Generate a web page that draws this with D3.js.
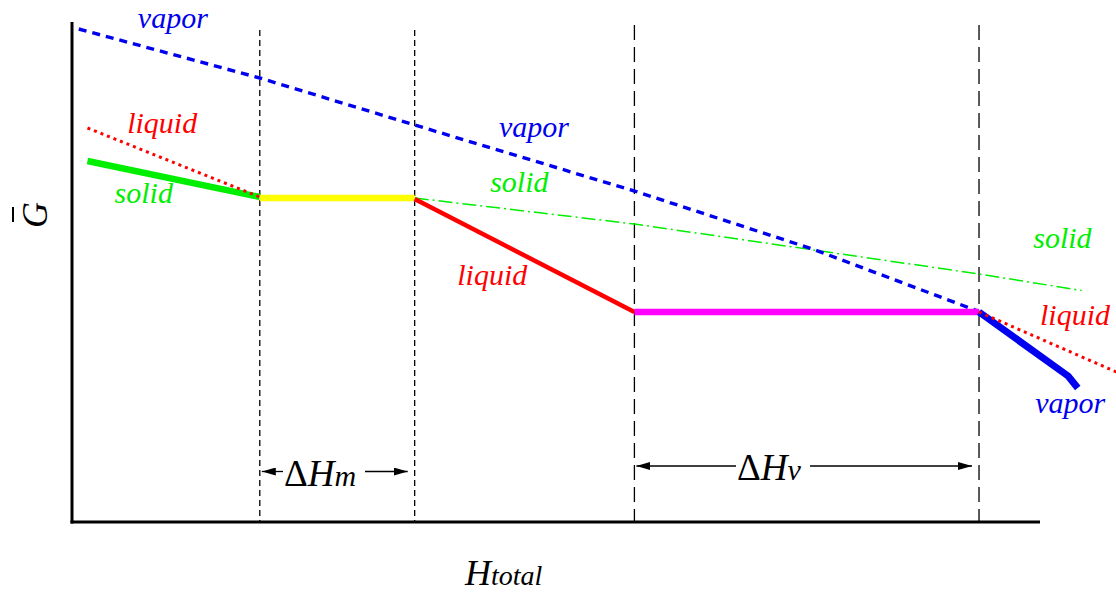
<!DOCTYPE html>
<html>
<head>
<meta charset="utf-8">
<script src="https://cdn.jsdelivr.net/npm/d3@7"></script>
<style>
  body { margin: 0; background: #fff; }
  svg { display: block; }
</style>
</head>
<body>
<svg width="1116" height="593"></svg>
<script>
// transition enthalpies (arbitrary units, 0..100 across the axis)
var transitions = [19.4, 35.4, 58.1, 93.7];

// G-bar curves, H values and G values
var vaporDashH  = [0.7, 19.4, 35.4, 58.1, 76.5, 93.7];
var vaporDashG  = [98.6, 88.8, 79.4, 66.2, 54.6, 42.1];
var solidThickH = [1.6, 19.4];
var solidThickG = [72.2, 65.0];
var liquidDot1H = [1.6, 19.4];
var liquidDot1G = [78.8, 65.0];
var meltH       = [19.4, 35.4];
var meltG       = [64.8, 64.8];
var liquidH     = [35.4, 58.1];
var liquidG     = [64.6, 42.0];
var boilH       = [58.1, 93.7];
var boilG       = [42.0, 42.0];
var vaporH      = [93.7, 102.9, 103.9];
var vaporG      = [42.0, 29.2, 26.8];
var liquidDot2H = [93.7, 107.9];
var liquidDot2G = [42.0, 30.0];
var solidDashH  = [35.4, 58.1, 93.7, 104.3];
var solidDashG  = [64.8, 59.6, 49.6, 46.3];

var labelText = ["vapor", "liquid", "solid", "vapor", "solid", "liquid", "solid", "liquid", "vapor"];
var labelH    = [6.8, 5.7, 4.4, 44.1, 43.2, 39.8, 99.3, 100.0, 99.5];
var labelG    = [98.8, 77.8, 63.8, 77.0, 66.0, 47.4, 54.8, 39.4, 21.8];

window.onload = function() {

  var svg = d3.select("svg");
  var serif = "'Liberation Serif', 'Times New Roman', Times, serif";

  var x = d3.scaleLinear().domain([0, 100]).range([72, 1040]);
  var y = d3.scaleLinear().domain([0, 100]).range([522, 22]);

  var line = d3.line()
      .x(function(d) { return x(d[0]); })
      .y(function(d) { return y(d[1]); });

  function pts(hs, gs) { return hs.map(function(h, i) { return [h, gs[i]]; }); }

  var defs = svg.append("defs");
  defs.append("marker")
      .attr("id", "arrow")
      .attr("viewBox", "0 0 14 8")
      .attr("refX", 14).attr("refY", 4)
      .attr("markerWidth", 14).attr("markerHeight", 8)
      .attr("markerUnits", "userSpaceOnUse")
      .attr("orient", "auto-start-reverse")
    .append("path")
      .attr("d", "M0,0L14,4L0,8Z")
      .attr("fill", "#000");

  // vertical guides
  svg.selectAll(".guide")
    .data(transitions)
    .enter().append("line")
      .attr("class", "guide")
      .attr("x1", function(d) { return x(d); })
      .attr("x2", function(d) { return x(d); })
      .attr("y1", function(d, i) { return i < 2 ? 30 : 25; })
      .attr("y2", y(0))
      .attr("stroke", "#000")
      .attr("stroke-width", 1.3)
      .attr("stroke-dasharray", function(d, i) { return i < 2 ? "6,4" : "15,7"; });

  var curves = [
    { d: pts(solidDashH, solidDashG),   c: "#00ee00", w: 1.5, dash: "14,4,2,4" },
    { d: pts(vaporDashH, vaporDashG),   c: "#0000ee", w: 3.4, dash: "8,6" },
    { d: pts(solidThickH, solidThickG), c: "#00ee00", w: 6.5, dash: null },
    { d: pts(liquidDot1H, liquidDot1G), c: "#ff0000", w: 3, dash: "3,4" },
    { d: pts(meltH, meltG),             c: "#ffff00", w: 6.5, dash: null },
    { d: pts(liquidH, liquidG),         c: "#ff0000", w: 4.5, dash: null },
    { d: pts(boilH, boilG),             c: "#ff00ff", w: 6.5, dash: null },
    { d: pts(vaporH, vaporG),           c: "#0000ee", w: 7, dash: null },
    { d: pts(liquidDot2H, liquidDot2G), c: "#ff0000", w: 3, dash: "3,4" }
  ];

  svg.selectAll(".curve")
    .data(curves)
    .enter().append("path")
      .attr("class", "curve")
      .attr("d", function(d) { return line(d.d); })
      .attr("fill", "none")
      .attr("stroke", function(d) { return d.c; })
      .attr("stroke-width", function(d) { return d.w; })
      .attr("stroke-dasharray", function(d) { return d.dash; })
      .attr("stroke-linejoin", "round");

  // axes
  svg.append("line")
      .attr("x1", x(0)).attr("x2", x(0))
      .attr("y1", y(100)).attr("y2", y(0) + 1.5)
      .attr("stroke", "#000").attr("stroke-width", 3);
  svg.append("line")
      .attr("x1", x(0) - 1.5).attr("x2", x(100))
      .attr("y1", y(0)).attr("y2", y(0))
      .attr("stroke", "#000").attr("stroke-width", 3);

  var colorOf = { vapor: "#0000ee", liquid: "#ff0000", solid: "#00ee00" };
  svg.selectAll(".phase")
    .data(labelText)
    .enter().append("text")
      .attr("class", "phase")
      .attr("x", function(d, i) { return x(labelH[i]); })
      .attr("y", function(d, i) { return y(labelG[i]); })
      .attr("fill", function(d) { return colorOf[d]; })
      .style("font-family", serif)
      .style("font-size", "30px")
      .style("font-style", "italic")
      .text(function(d) { return d; });

  // enthalpy arrows
  function span(h0, h1, ya, sub, xl, xr) {
    svg.append("line")
        .attr("x1", xl).attr("x2", x(h0) + 2)
        .attr("y1", ya).attr("y2", ya)
        .attr("stroke", "#000").attr("stroke-width", 1.3)
        .attr("marker-end", "url(#arrow)");
    svg.append("line")
        .attr("x1", xr).attr("x2", x(h1) - 7)
        .attr("y1", ya).attr("y2", ya)
        .attr("stroke", "#000").attr("stroke-width", 1.3)
        .attr("marker-end", "url(#arrow)");
    var t = svg.append("text")
        .attr("x", xl + 1)
        .attr("y", ya + 14)
        .style("font-family", serif)
        .style("font-size", "37px");
    t.append("tspan").text("\u0394");
    t.append("tspan").style("font-style", "italic").text("H");
    t.append("tspan").style("font-style", "italic").style("font-size", "30px").text(sub);
  }
  span(transitions[0], transitions[1], 471.5, "m", 283, 365);
  span(transitions[2], transitions[3], 466, "v", 736, 810);

  // axis titles
  var xt = svg.append("text")
      .attr("x", 465).attr("y", 585)
      .style("font-family", serif)
      .style("font-style", "italic");
  xt.append("tspan").style("font-size", "36px").text("H");
  xt.append("tspan").style("font-size", "28px").text("total");

  var yt = svg.append("g").attr("transform", "translate(47,215) rotate(-90)");
  yt.append("text")
      .attr("text-anchor", "middle")
      .style("font-family", serif)
      .style("font-size", "36px")
      .style("font-style", "italic")
      .text("G");
  yt.append("line")
      .attr("x1", -7).attr("x2", 8)
      .attr("y1", -34).attr("y2", -34)
      .attr("stroke", "#000").attr("stroke-width", 2);
};
</script>
</body>
</html>
